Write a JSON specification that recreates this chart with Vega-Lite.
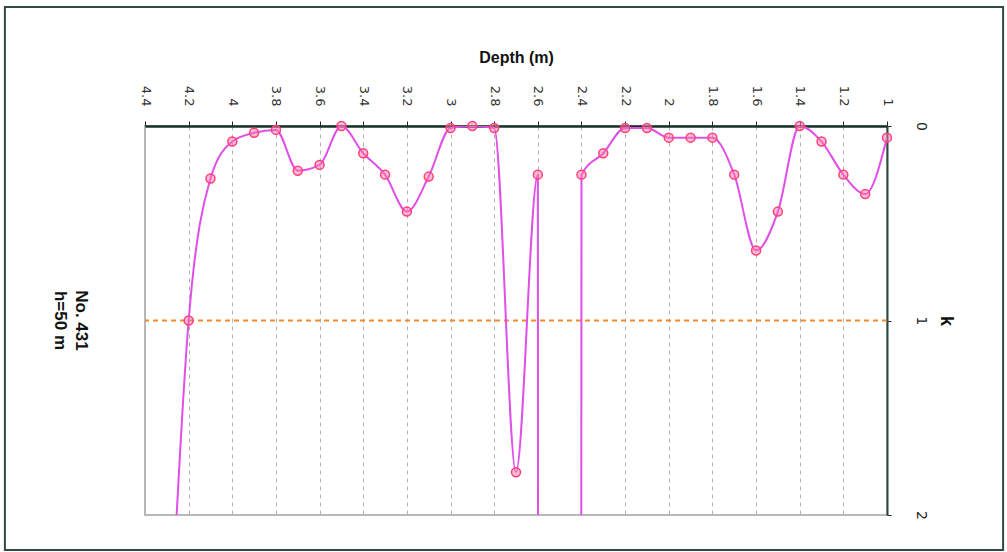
{
  "$schema": "https://vega.github.io/schema/vega-lite/v6.json",
  "autosize": {"type": "none"},
  "padding": {"left": 145, "top": 126, "right": 120, "bottom": 37},
  "width": 742,
  "height": 389,
  "background": "white",
  "config": {
    "font": "Liberation Sans",
    "view": {"stroke": "#b8b8b8", "strokeWidth": 2}
  },
  "datasets": {
    "profile": [
      {"depth": 1.0, "k": 0.06},
      {"depth": 1.1, "k": 0.35},
      {"depth": 1.2, "k": 0.25},
      {"depth": 1.3, "k": 0.08},
      {"depth": 1.4, "k": 0.0},
      {"depth": 1.5, "k": 0.44},
      {"depth": 1.6, "k": 0.64},
      {"depth": 1.7, "k": 0.25},
      {"depth": 1.8, "k": 0.06},
      {"depth": 1.9, "k": 0.06},
      {"depth": 2.0, "k": 0.06},
      {"depth": 2.1, "k": 0.01},
      {"depth": 2.2, "k": 0.01},
      {"depth": 2.3, "k": 0.14},
      {"depth": 2.4, "k": 0.25},
      {"depth": 2.5, "k": 200},
      {"depth": 2.6, "k": 0.25},
      {"depth": 2.7, "k": 1.78},
      {"depth": 2.8, "k": 0.01},
      {"depth": 2.9, "k": 0.0},
      {"depth": 3.0, "k": 0.01},
      {"depth": 3.1, "k": 0.26},
      {"depth": 3.2, "k": 0.44},
      {"depth": 3.3, "k": 0.25},
      {"depth": 3.4, "k": 0.14},
      {"depth": 3.5, "k": 0.0},
      {"depth": 3.6, "k": 0.2},
      {"depth": 3.7, "k": 0.23},
      {"depth": 3.8, "k": 0.02},
      {"depth": 3.9, "k": 0.035},
      {"depth": 4.0, "k": 0.08},
      {"depth": 4.1, "k": 0.27},
      {"depth": 4.2, "k": 1.0},
      {"depth": 4.3, "k": 3.0}
    ],
    "label": [{"text": "No. 431\nh=50 m"}]
  },
  "layer": [
    {
      "data": {"name": "label"},
      "mark": {"type": "rect", "fill": "transparent", "fillOpacity": 0, "stroke": "#2f4a42", "strokeWidth": 2, "clip": false},
      "encoding": {
        "x": {"datum": 5.042, "type": "quantitative", "scale": {"domain": [1, 4.4], "reverse": true, "nice": false, "zero": false}},
        "x2": {"datum": 0.468},
        "y": {"datum": -0.612, "type": "quantitative", "scale": {"domain": [0, 2], "reverse": true, "nice": false, "zero": false}},
        "y2": {"datum": 2.18}
      }
    },
    {
      "data": {"name": "label"},
      "mark": {"type": "rule", "color": "#f08a2c", "strokeWidth": 2, "strokeDash": [5, 4]},
      "encoding": {"y": {"datum": 1, "type": "quantitative"}}
    },
    {
      "data": {"name": "profile"},
      "mark": {"type": "line", "interpolate": "monotone", "color": "#e04fe8", "strokeWidth": 2, "clip": true},
      "encoding": {
        "x": {
          "field": "depth", "type": "quantitative",
          "scale": {"domain": [1, 4.4], "reverse": true, "nice": false, "zero": false},
          "axis": {
            "orient": "top",
            "title": "Depth (m)",
            "titleFont": "Liberation Sans",
            "titleFontSize": 16,
            "titleFontWeight": "bold",
            "titleColor": "#111111",
            "titlePadding": 20,
            "values": [1, 1.2, 1.4, 1.6, 1.8, 2, 2.2, 2.4, 2.6, 2.8, 3, 3.2, 3.4, 3.6, 3.8, 4, 4.2, 4.4],
            "format": "~g",
            "labelAngle": 90,
            "labelFont": "DejaVu Sans",
            "labelFontSize": 13,
            "labelColor": "#333333",
            "labelPadding": 15,
            "labelOverlap": false,
            "tickSize": 5,
            "tickColor": "#222222",
            "domainColor": "#1a3328",
            "domainWidth": 2.5,
            "grid": true,
            "gridColor": "#b0b0b0",
            "gridDash": [4, 4],
            "gridWidth": 1
          }
        },
        "y": {
          "field": "k", "type": "quantitative",
          "scale": {"domain": [0, 2], "reverse": true, "nice": false, "zero": false},
          "axis": {
            "orient": "right",
            "title": "k",
            "titleFont": "Liberation Sans",
            "titleFontSize": 18,
            "titleFontWeight": "bold",
            "titleColor": "#111111",
            "titleAngle": 90,
            "titlePadding": 9,
            "values": [0, 1, 2],
            "format": "~g",
            "labelAngle": 90,
            "labelFont": "DejaVu Sans",
            "labelFontSize": 14,
            "labelColor": "#222222",
            "labelPadding": 22,
            "tickSize": 4,
            "tickColor": "#222222",
            "domainColor": "#2a4a40",
            "domainWidth": 2,
            "grid": false
          }
        }
      }
    },
    {
      "data": {"name": "profile"},
      "transform": [{"filter": "datum.k <= 2"}],
      "mark": {"type": "point", "shape": "circle", "size": 80, "filled": true, "fill": "#ff7aa8", "fillOpacity": 0.5, "stroke": "#ff3f7a", "strokeWidth": 1.5},
      "encoding": {
        "x": {"field": "depth", "type": "quantitative"},
        "y": {"field": "k", "type": "quantitative"}
      }
    },
    {
      "data": {"name": "label"},
      "mark": {"type": "text", "angle": 90, "lineBreak": "\n", "font": "Liberation Sans", "fontSize": 17, "fontWeight": "bold", "color": "#111111", "align": "center", "baseline": "middle", "lineHeight": 21},
      "encoding": {
        "x": {"datum": 4.694, "type": "quantitative"},
        "y": {"datum": 1.0, "type": "quantitative"},
        "text": {"field": "text"}
      }
    }
  ]
}
